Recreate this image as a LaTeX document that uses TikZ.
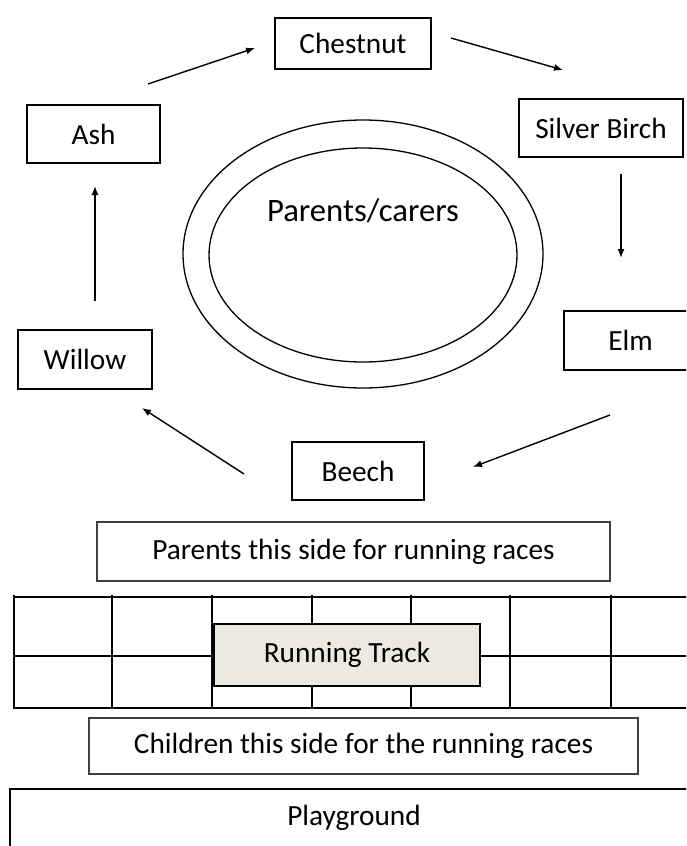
\documentclass[tikz,border=0pt]{standalone}
\usepackage{fontspec}
\setmainfont{Carlito}
\usetikzlibrary{arrows.meta}
\definecolor{trackfill}{RGB}{236,234,224}
\definecolor{thingray}{RGB}{64,64,64}
\begin{document}
\begin{tikzpicture}[x=1pt,y=-1pt,
  treebox/.style={draw=black,line width=2.4pt,inner sep=0pt,font=\fontsize{29.3}{32}\selectfont},
  infobox/.style={draw=thingray,line width=1.4pt,inner sep=0pt,font=\fontsize{29.3}{32}\selectfont},
  flow/.style={line width=1.4pt,-{Latex[length=9pt,width=7pt]}},
  gridline/.style={line width=2.8pt},
  ring/.style={line width=1.3pt}]
\useasboundingbox (0,0) rectangle (686,846);
\clip (0,0) rectangle (686,846);
% ellipses
\draw[ring] (363,254) ellipse [x radius=180, y radius=134];
\draw[ring] (363,255) ellipse [x radius=154, y radius=107];
\node[font=\fontsize{32.7}{36}\selectfont] (pc) at (363,211) {Parents/carers};
% tree boxes
\node[treebox,minimum width=156pt,minimum height=51pt] (chestnut) at (353,43.5) {Chestnut};
\node[treebox,minimum width=133pt,minimum height=58pt] (ash) at (93.5,134) {Ash};
\node[treebox,minimum width=164pt,minimum height=58pt] (silver) at (601,128) {Silver Birch};
\node[treebox,minimum width=133pt,minimum height=59pt] (elm) at (630.5,340.5) {Elm};
\node[treebox,minimum width=134pt,minimum height=59pt] (willow) at (85,359.5) {Willow};
\node[treebox,minimum width=132pt,minimum height=58pt] (beech) at (358,471) {Beech};
% arrow end points
\coordinate (a1s) at (148,84);  \coordinate (a1e) at (255,48);
\coordinate (a2s) at (451,38);  \coordinate (a2e) at (563,70);
\coordinate (a3s) at (621,174); \coordinate (a3e) at (621,258);
\coordinate (a4s) at (610,415); \coordinate (a4e) at (473,467);
\coordinate (a5s) at (244,474); \coordinate (a5e) at (142,408);
\coordinate (a6s) at (95,301);  \coordinate (a6e) at (95,186);
\draw[flow] (a1s) -- (a1e);
\draw[flow] (a2s) -- (a2e);
\draw[flow] (a3s) -- (a3e);
\draw[flow] (a4s) -- (a4e);
\draw[flow] (a5s) -- (a5e);
\draw[flow] (a6s) -- (a6e);
% parents side
\node[infobox,minimum width=513pt,minimum height=59pt] (pside) at (353.5,551.5) {Parents this side for running races};
% grid
\draw[gridline] (14,597) -- (700,597);
\draw[gridline] (14,656) -- (700,656);
\draw[gridline] (14,708) -- (700,708);
\foreach \gx in {14,112,212,312,411,510,611}
  \draw[gridline] (\gx,595) -- (\gx,709.4);
\node[draw=black,line width=2.4pt,fill=trackfill,inner sep=0pt,minimum width=266pt,minimum height=62pt,font=\fontsize{29.3}{32}\selectfont] (track) at (347,655) {Running Track};
% children side
\node[infobox,minimum width=549pt,minimum height=56pt] (cside) at (363.5,746) {Children this side for the running races};
% playground
\node[draw=black,line width=2.4pt,inner sep=0pt,minimum width=688pt,minimum height=58pt,font=\fontsize{29.3}{32}\selectfont] (play) at (354,818) {Playground};
\end{tikzpicture}
\end{document}
